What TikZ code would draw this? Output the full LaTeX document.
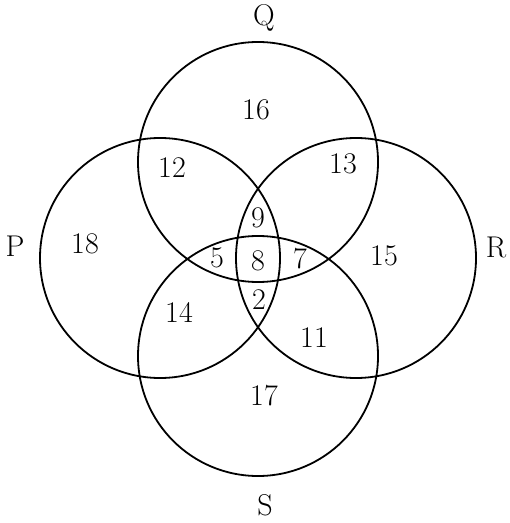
\documentclass[tikz,border=0pt]{standalone}
\usepackage{tikz}
\usetikzlibrary{positioning}
\tikzset{
  ring/.style={circle,draw=black,line width=0.9pt,minimum size=120pt,inner sep=0pt},
  num/.style={font=\fontsize{15}{18}\selectfont,inner sep=1pt},
  setname/.style={font=\fontsize{15}{18}\selectfont,inner sep=1pt},
}
\begin{document}
\begin{tikzpicture}[x=0.5pt,y=-0.5pt]
  \useasboundingbox (0,0) rectangle (509,523);
  % the four sets
  \node[ring] (Qc) at (258,162) {};
  \node[ring] (Pc) at (160,258) {};
  \node[ring] (Rc) at (356,258) {};
  \node[ring] (Sc) at (258,356) {};

  \node[setname] (Q) at (264,18) {Q};
  \node[setname] (P) at (15,246) {P};
  \node[setname] (R) at (496,247) {R};
  \node[setname] (S) at (265,505) {S};

  % region counts
  \node[num] (q) at (256,110) {16};
  \node[num] (pq) at (172,168) {12};
  \node[num] (qr) at (343,164) {13};
  \node[num] (p) at (85,244) {18};
  \node[num] (r) at (384,256) {15};
  \node[num] (pqr) at (258,218) {9};
  \node[num] (pqs) at (217,258) {5};
  \node[num] (all) at (258,261) {8};
  \node[num] (qrs) at (300,259) {7};
  \node[num] (prs) at (259,300) {2};
  \node[num] (ps) at (179,312) {14};
  \node[num] (rs) at (314,338) {11};
  \node[num] (s) at (264,396) {17};
\end{tikzpicture}
\end{document}
